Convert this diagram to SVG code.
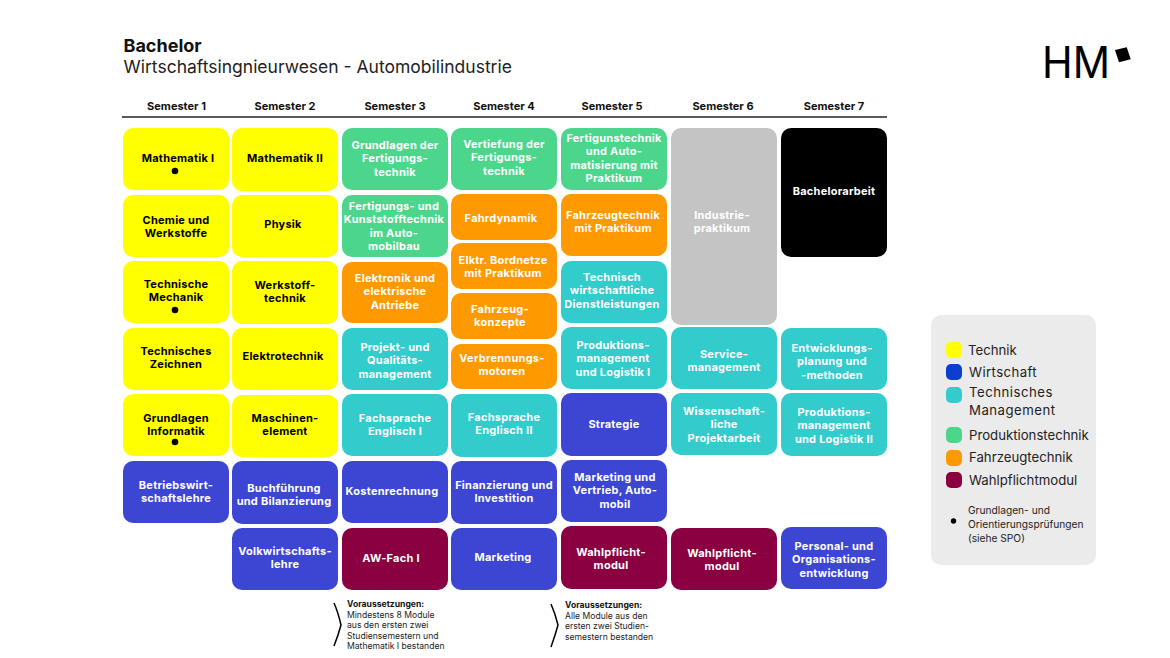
<svg xmlns="http://www.w3.org/2000/svg" width="1170" height="658" viewBox="0 0 1170 658">
<style>
text{font-family:"Inter","Liberation Sans",sans-serif}
.n{font-size:11px;font-weight:700;text-anchor:middle;fill:#fff;letter-spacing:.25px}
.k{fill:#000}
.h{font-size:11px;font-weight:700;text-anchor:middle;fill:#111}
.y{fill:#ffff00}.b{fill:#3c46d2}.t{fill:#33cccc}.g{fill:#4cd68c}.o{fill:#ff9900}.w{fill:#8a0040}.s{fill:#c4c4c4}.x{fill:#000}
.l{font-size:13.2px;fill:#222}
.v{font-size:8.6px;fill:#222}
.vb{font-size:8.6px;font-weight:700;fill:#111}
.m{font-size:10.2px;fill:#222}
</style>
<rect width="1170" height="658" fill="#fff"/>
<g id="title">
<text x="123.500" y="52" font-size="18" font-weight="700" fill="#111">Bachelor</text>
<text x="123.500" y="72.500" font-size="17.500" fill="#222">Wirtschaftsingnieurwesen - Automobilindustrie</text>
</g>
<g id="logo">
<text x="1042" y="77.500" font-size="44" fill="#000" font-family="Liberation Sans" textLength="68" lengthAdjust="spacingAndGlyphs">HM</text>
<polygon points="1115,50 1126.700,47.300 1130.700,59.300 1119,62.300" fill="#000"/>
</g>
<g id="semester-header">
<text class="h" x="176.500" y="110">Semester 1</text>
<text class="h" x="285" y="110">Semester 2</text>
<text class="h" x="395" y="110">Semester 3</text>
<text class="h" x="504" y="110">Semester 4</text>
<text class="h" x="612" y="110">Semester 5</text>
<text class="h" x="723" y="110">Semester 6</text>
<text class="h" x="834" y="110">Semester 7</text>
<line x1="122" y1="117" x2="887" y2="117" stroke="#222" stroke-width="1.300"/>
</g>
<g id="connectors"></g>
<g id="n1"><rect class="y" x="123" y="128" width="106" height="62" rx="10"/><text class="n k" x="178" y="162">Mathematik I</text><circle cx="175" cy="171" r="3.300" fill="#000"/></g>
<g id="n2"><rect class="y" x="123" y="195" width="106" height="62" rx="10"/><text class="n k" x="176" y="224"><tspan x="176">Chemie und</tspan><tspan x="176" dy="13.300">Werkstoffe</tspan></text></g>
<g id="n3"><rect class="y" x="123" y="261" width="106" height="62" rx="10"/><text class="n k" x="176" y="288"><tspan x="176">Technische</tspan><tspan x="176" dy="13.300">Mechanik</tspan></text><circle cx="175" cy="310" r="3.300" fill="#000"/></g>
<g id="n4"><rect class="y" x="123" y="328" width="106" height="62" rx="10"/><text class="n k" x="176" y="355"><tspan x="176">Technisches</tspan><tspan x="176" dy="13.300">Zeichnen</tspan></text></g>
<g id="n5"><rect class="y" x="123" y="394" width="106" height="62" rx="10"/><text class="n k" x="176" y="422"><tspan x="176">Grundlagen</tspan><tspan x="176" dy="13.300">Informatik</tspan></text><circle cx="175" cy="442" r="3.300" fill="#000"/></g>
<g id="n6"><rect class="b" x="123" y="461" width="106" height="62" rx="10"/><text class="n" x="176" y="489"><tspan x="176">Betriebswirt-</tspan><tspan x="176" dy="13.300">schaftslehre</tspan></text></g>
<g id="n7"><rect class="y" x="232" y="128" width="106" height="63" rx="10"/><text class="n k" x="285" y="162">Mathematik II</text></g>
<g id="n8"><rect class="y" x="232" y="195" width="106" height="62" rx="10"/><text class="n k" x="283" y="228">Physik</text></g>
<g id="n9"><rect class="y" x="232" y="261" width="106" height="63" rx="10"/><text class="n k" x="285" y="289"><tspan x="285">Werkstoff-</tspan><tspan x="285" dy="13.300">technik</tspan></text></g>
<g id="n10"><rect class="y" x="232" y="328" width="106" height="62" rx="10"/><text class="n k" x="283" y="360">Elektrotechnik</text></g>
<g id="n11"><rect class="y" x="232" y="395" width="106" height="62" rx="10"/><text class="n k" x="285" y="422"><tspan x="285">Maschinen-</tspan><tspan x="285" dy="13.300">element</tspan></text></g>
<g id="n12"><rect class="b" x="232" y="461" width="106" height="63" rx="10"/><text class="n" x="284" y="492"><tspan x="284">Buchführung</tspan><tspan x="284" dy="13.300">und Bilanzierung</tspan></text></g>
<g id="n13"><rect class="b" x="232" y="528" width="106" height="62" rx="10"/><text class="n" x="285" y="555"><tspan x="285">Volkwirtschafts-</tspan><tspan x="285" dy="13.300">lehre</tspan></text></g>
<g id="n14"><rect class="g" x="342" y="128" width="106" height="62" rx="10"/><text class="n" x="395" y="149"><tspan x="395">Grundlagen der</tspan><tspan x="395" dy="13.300">Fertigungs-</tspan><tspan x="395" dy="13.300">technik</tspan></text></g>
<g id="n15"><rect class="g" x="342" y="195" width="106" height="62" rx="10"/><text class="n" x="394" y="210"><tspan x="394">Fertigungs- und</tspan><tspan x="394" dy="13.300">Kunststofftechnik</tspan><tspan x="394" dy="13.300">im Auto-</tspan><tspan x="394" dy="13.300">mobilbau</tspan></text></g>
<g id="n16"><rect class="o" x="342" y="262" width="106" height="61" rx="10"/><text class="n" x="395" y="282"><tspan x="395">Elektronik und</tspan><tspan x="395" dy="13.300">elektrische</tspan><tspan x="395" dy="13.300">Antriebe</tspan></text></g>
<g id="n17"><rect class="t" x="342" y="328" width="106" height="62" rx="10"/><text class="n" x="395" y="351"><tspan x="395">Projekt- und</tspan><tspan x="395" dy="13.300">Qualitäts-</tspan><tspan x="395" dy="13.300">management</tspan></text></g>
<g id="n18"><rect class="t" x="342" y="394" width="106" height="62" rx="10"/><text class="n" x="395" y="422"><tspan x="395">Fachsprache</tspan><tspan x="395" dy="13.300">Englisch I</tspan></text></g>
<g id="n19"><rect class="b" x="342" y="461" width="106" height="62" rx="10"/><text class="n" x="392" y="495">Kostenrechnung</text></g>
<g id="n20"><rect class="w" x="342" y="528" width="106" height="62" rx="10"/><text class="n" x="391" y="562">AW-Fach I</text></g>
<g id="n21"><rect class="g" x="451" y="128" width="106" height="62" rx="10"/><text class="n" x="504" y="148"><tspan x="504">Vertiefung der</tspan><tspan x="504" dy="13.300">Fertigungs-</tspan><tspan x="504" dy="13.300">technik</tspan></text></g>
<g id="n22"><rect class="o" x="451" y="194" width="106" height="46" rx="10"/><text class="n" x="501" y="222">Fahrdynamik</text></g>
<g id="n23"><rect class="o" x="451" y="243" width="106" height="46" rx="10"/><text class="n" x="503" y="264"><tspan x="503">Elktr. Bordnetze</tspan><tspan x="503" dy="13.300">mit Praktikum</tspan></text></g>
<g id="n24"><rect class="o" x="451" y="293" width="106" height="46" rx="10"/><text class="n" x="500" y="313"><tspan x="500">Fahrzeug-</tspan><tspan x="500" dy="13.300">konzepte</tspan></text></g>
<g id="n25"><rect class="o" x="451" y="344" width="106" height="45" rx="10"/><text class="n" x="502" y="362"><tspan x="502">Verbrennungs-</tspan><tspan x="502" dy="13.300">motoren</tspan></text></g>
<g id="n26"><rect class="t" x="451" y="394" width="106" height="63" rx="10"/><text class="n" x="504" y="421"><tspan x="504">Fachsprache</tspan><tspan x="504" dy="13.300">Englisch II</tspan></text></g>
<g id="n27"><rect class="b" x="451" y="461" width="106" height="63" rx="10"/><text class="n" x="504" y="489"><tspan x="504">Finanzierung und</tspan><tspan x="504" dy="13.300">Investition</tspan></text></g>
<g id="n28"><rect class="b" x="451" y="528" width="106" height="62" rx="10"/><text class="n" x="503" y="561">Marketing</text></g>
<g id="n29"><rect class="g" x="561" y="128" width="106" height="62" rx="10"/><text class="n" x="614" y="142"><tspan x="614">Fertigunstechnik</tspan><tspan x="614" dy="13.300">und Auto-</tspan><tspan x="614" dy="13.300">matisierung mit</tspan><tspan x="614" dy="13.300">Praktikum</tspan></text></g>
<g id="n30"><rect class="o" x="561" y="194" width="106" height="62" rx="10"/><text class="n" x="613" y="219"><tspan x="613">Fahrzeugtechnik</tspan><tspan x="613" dy="13.300">mit Praktikum</tspan></text></g>
<g id="n31"><rect class="t" x="561" y="261" width="106" height="62" rx="10"/><text class="n" x="612" y="281"><tspan x="612">Technisch</tspan><tspan x="612" dy="13.300">wirtschaftliche</tspan><tspan x="612" dy="13.300">Dienstleistungen</tspan></text></g>
<g id="n32"><rect class="t" x="561" y="327" width="106" height="62" rx="10"/><text class="n" x="613" y="349"><tspan x="613">Produktions-</tspan><tspan x="613" dy="13.300">management</tspan><tspan x="613" dy="13.300">und Logistik I</tspan></text></g>
<g id="n33"><rect class="b" x="561" y="393" width="106" height="63" rx="10"/><text class="n" x="614" y="428">Strategie</text></g>
<g id="n34"><rect class="b" x="561" y="460" width="106" height="62" rx="10"/><text class="n" x="615" y="481"><tspan x="615">Marketing und</tspan><tspan x="615" dy="13.300">Vertrieb, Auto-</tspan><tspan x="615" dy="13.300">mobil</tspan></text></g>
<g id="n35"><rect class="w" x="561" y="526" width="106" height="63" rx="10"/><text class="n" x="611" y="556"><tspan x="611">Wahlpflicht-</tspan><tspan x="611" dy="13.300">modul</tspan></text></g>
<g id="n36"><rect class="s" x="671" y="128" width="106" height="197" rx="10"/><text class="n" x="722" y="219"><tspan x="722">Industrie-</tspan><tspan x="722" dy="13.300">praktikum</tspan></text></g>
<g id="n37"><rect class="t" x="671" y="327" width="106" height="62" rx="10"/><text class="n" x="724" y="358"><tspan x="724">Service-</tspan><tspan x="724" dy="13.300">management</tspan></text></g>
<g id="n38"><rect class="t" x="671" y="393" width="106" height="62" rx="10"/><text class="n" x="724" y="415"><tspan x="724">Wissenschaft-</tspan><tspan x="724" dy="13.300">liche</tspan><tspan x="724" dy="13.300">Projektarbeit</tspan></text></g>
<g id="n39"><rect class="w" x="671" y="528" width="106" height="62" rx="10"/><text class="n" x="722" y="557"><tspan x="722">Wahlpflicht-</tspan><tspan x="722" dy="13.300">modul</tspan></text></g>
<g id="n40"><rect class="x" x="781" y="128" width="106" height="129" rx="10"/><text class="n" x="834" y="195">Bachelorarbeit</text></g>
<g id="n41"><rect class="t" x="781" y="328" width="106" height="62" rx="10"/><text class="n" x="832" y="352"><tspan x="832">Entwicklungs-</tspan><tspan x="832" dy="13.300">planung und</tspan><tspan x="832" dy="13.300">-methoden</tspan></text></g>
<g id="n42"><rect class="t" x="781" y="393" width="106" height="63" rx="10"/><text class="n" x="834" y="416"><tspan x="834">Produktions-</tspan><tspan x="834" dy="13.300">management</tspan><tspan x="834" dy="13.300">und Logistik II</tspan></text></g>
<g id="n43"><rect class="b" x="781" y="527" width="106" height="62" rx="10"/><text class="n" x="834" y="550"><tspan x="834">Personal- und</tspan><tspan x="834" dy="13.300">Organisations-</tspan><tspan x="834" dy="13.300">entwicklung</tspan></text></g>
<g id="note1">
<path d="M334 603 Q338 612 341 625 Q338 636 334 646" fill="none" stroke="#000" stroke-width="1.500"/>
<text class="vb" x="347" y="607">Voraussetzungen:</text>
<text class="v" x="347" y="617.500">Mindestens 8 Module</text>
<text class="v" x="347" y="628">aus den ersten zwei</text>
<text class="v" x="347" y="638.500">Studiensemestern und</text>
<text class="v" x="347" y="649">Mathematik I bestanden</text>
</g>
<g id="note2">
<path d="M551 604 Q555 613 558 625 Q555 636 551 647" fill="none" stroke="#000" stroke-width="1.500"/>
<text class="vb" x="565" y="608">Voraussetzungen:</text>
<text class="v" x="565" y="618.500">Alle Module aus den</text>
<text class="v" x="565" y="629">ersten zwei Studien-</text>
<text class="v" x="565" y="639.500">semestern bestanden</text>
</g>
<g id="legend">
<rect x="931" y="315" width="165" height="250" rx="10" fill="#ebebeb"/>
<rect x="946" y="342" width="16" height="16" rx="5" fill="#ffff00"/><text class="l" x="968" y="355" font-size="12.800">Technik</text>
<rect x="946" y="364" width="16" height="16" rx="5" fill="#0a3fd0"/><text class="l" x="969" y="377" letter-spacing=".4">Wirtschaft</text>
<rect x="946" y="387" width="16" height="16" rx="5" fill="#33cccc"/><text class="l" x="969" y="397" letter-spacing=".5">Technisches</text><text class="l" x="969" y="415" letter-spacing=".5">Management</text>
<rect x="946" y="427" width="16" height="16" rx="5" fill="#4cd68c"/><text class="l" x="969" y="440">Produktionstechnik</text>
<rect x="946" y="450" width="16" height="16" rx="5" fill="#ff9900"/><text class="l" x="969" y="462">Fahrzeugtechnik</text>
<rect x="946" y="472" width="16" height="16" rx="5" fill="#8a0040"/><text class="l" x="969" y="485">Wahlpflichtmodul</text>
<circle cx="953.500" cy="521" r="2.700" fill="#000"/>
<text class="m" x="968" y="514">Grundlagen- und</text>
<text class="m" x="968" y="528">Orientierungsprüfungen</text>
<text class="m" x="968" y="542">(siehe SPO)</text>
</g>
</svg>
